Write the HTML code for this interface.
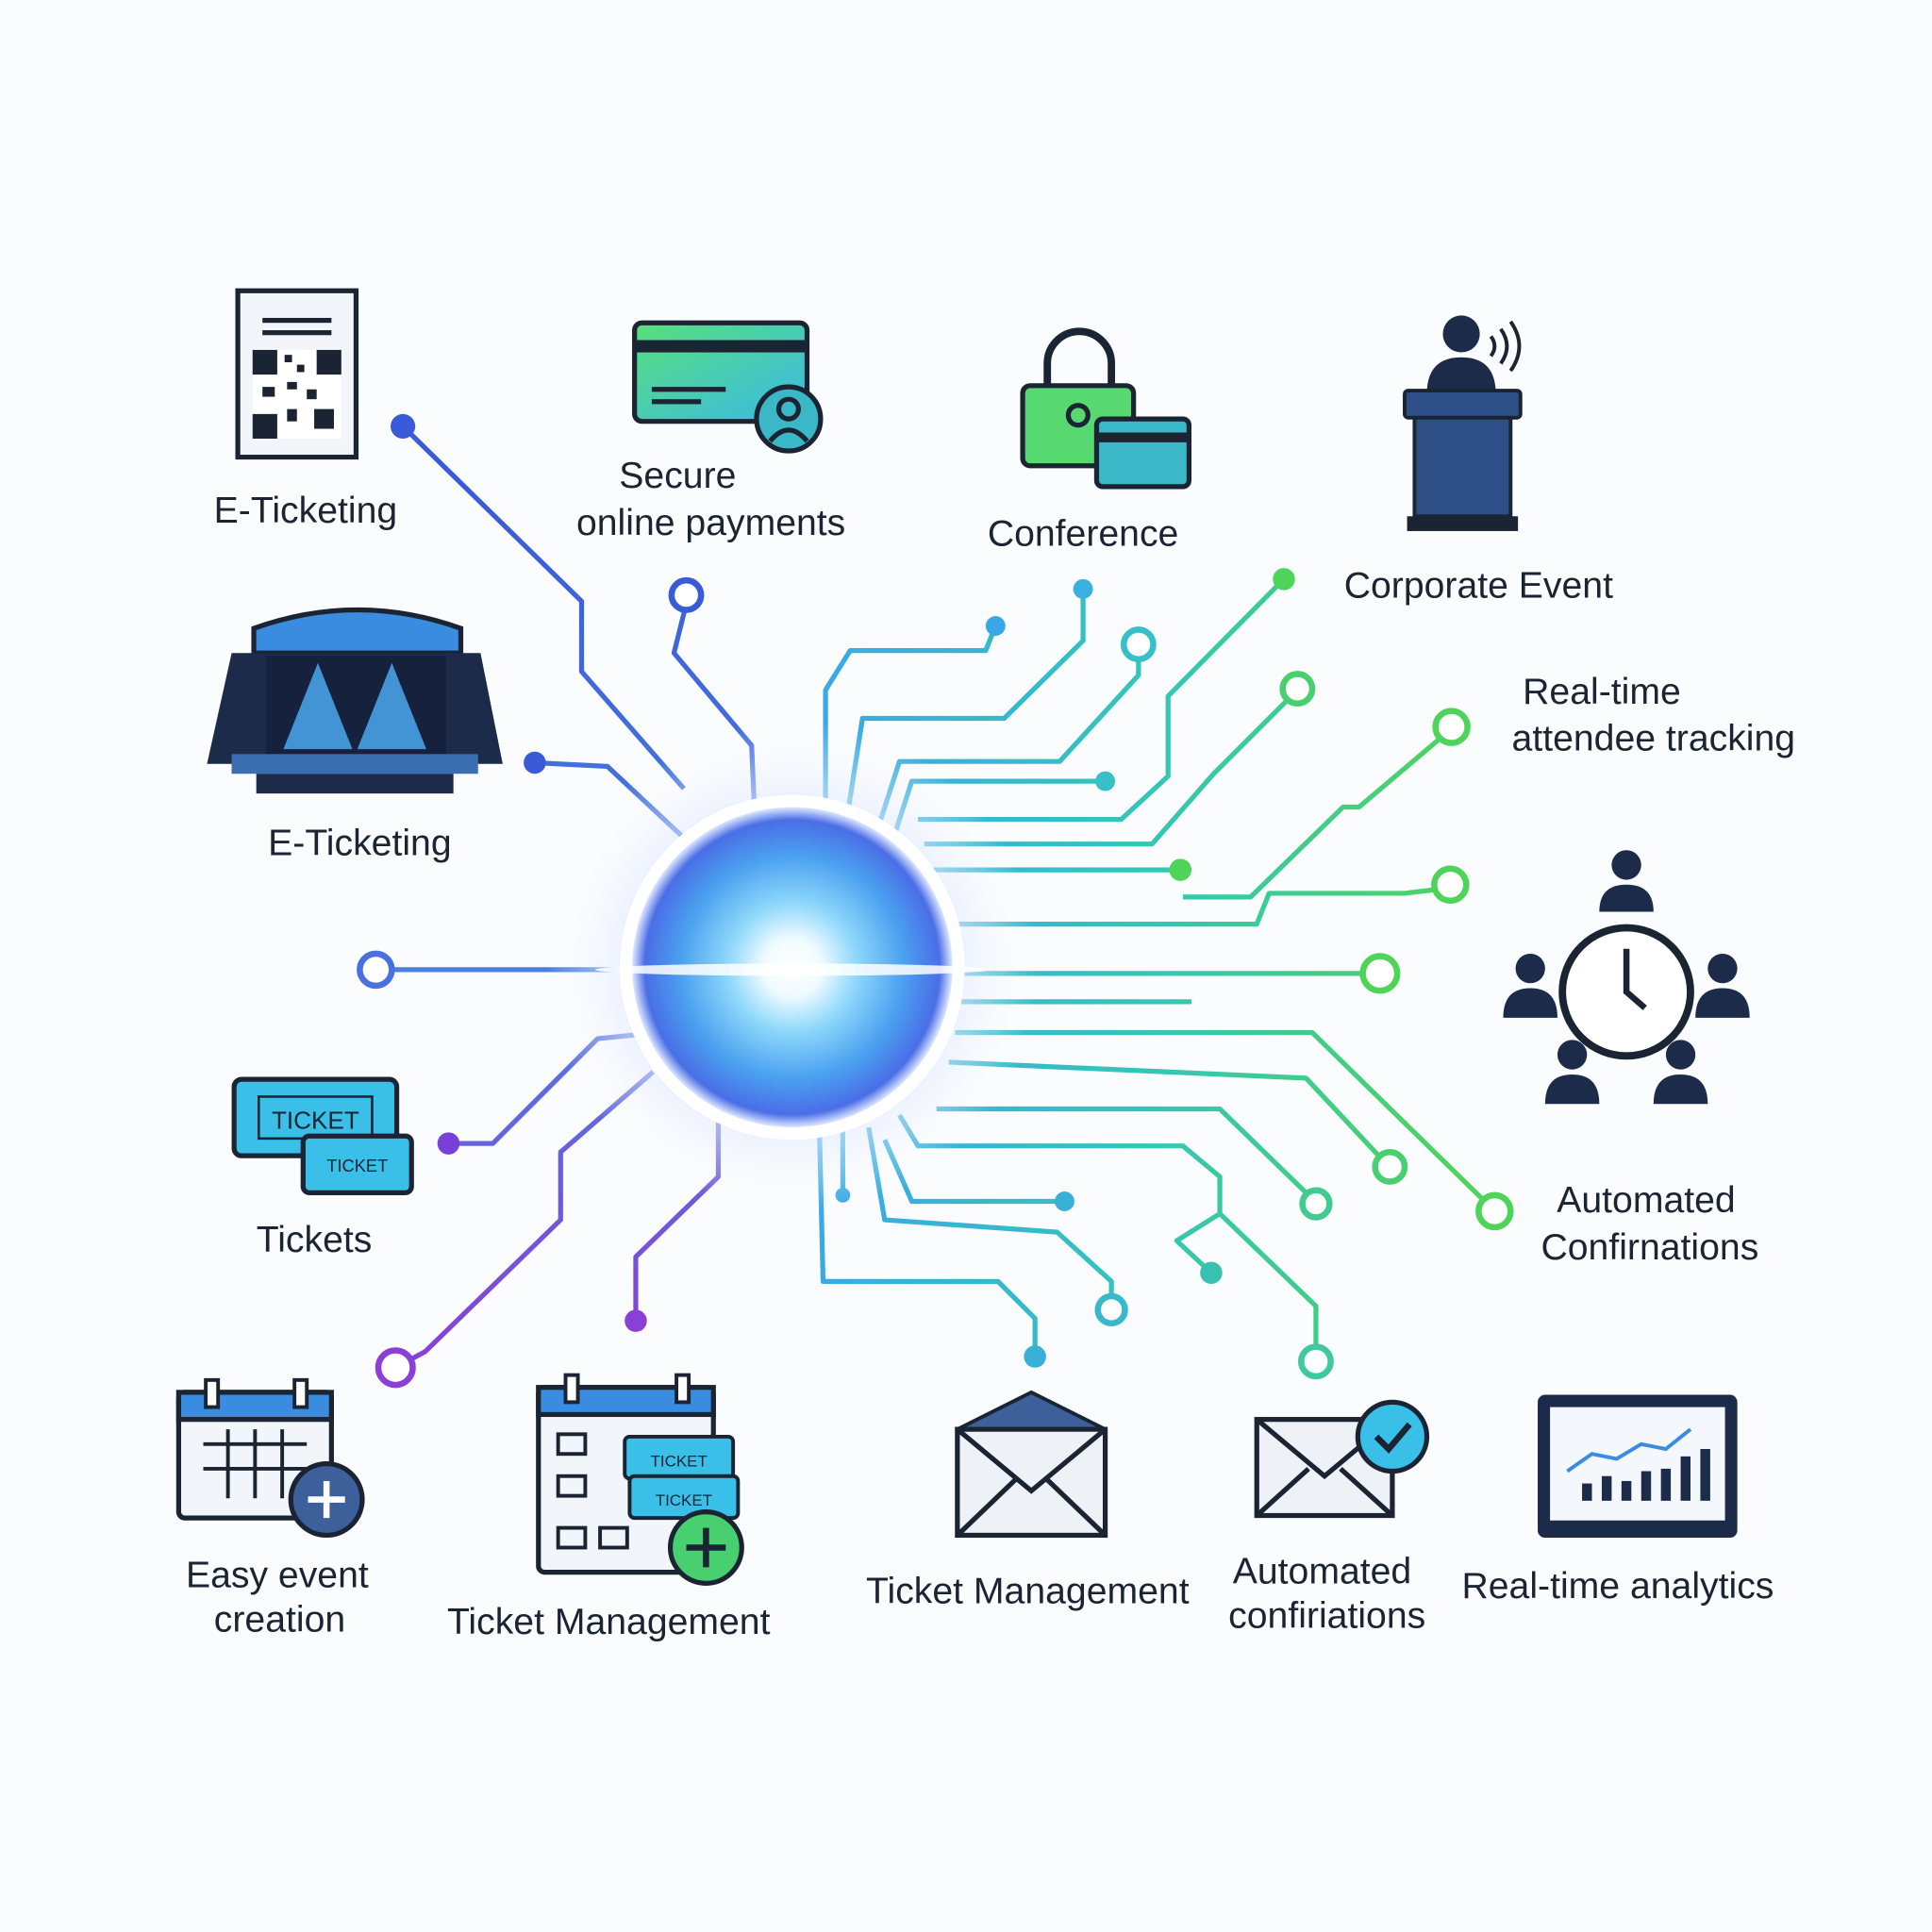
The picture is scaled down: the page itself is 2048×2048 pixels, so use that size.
<!DOCTYPE html>
<html><head><meta charset="utf-8">
<style>
html,body{margin:0;padding:0;background:#fbfcfd;}
svg{display:block}
text{font-family:"Liberation Sans","DejaVu Sans",sans-serif;fill:#1b2433;text-anchor:middle;font-size:30px}
</style></head><body>
<svg width="2048" height="2048" viewBox="0 0 1568 1568" xmlns="http://www.w3.org/2000/svg">
<defs>
<radialGradient id="glow" cx="0.5" cy="0.5" r="0.5">
<stop offset="0" stop-color="#ffffff"/>
<stop offset="0.18" stop-color="#f0fbff"/>
<stop offset="0.4" stop-color="#8fd8fb"/>
<stop offset="0.7" stop-color="#4aa0f0"/>
<stop offset="0.92" stop-color="#4a6ee6"/>
<stop offset="1" stop-color="#dfe8ff"/>
</radialGradient>
<radialGradient id="halo" cx="0.5" cy="0.5" r="0.5">
<stop offset="0.55" stop-color="#d6e2ff" stop-opacity="0.9"/>
<stop offset="1" stop-color="#ffffff" stop-opacity="0"/>
</radialGradient>
<linearGradient id="rg" gradientUnits="userSpaceOnUse" x1="660" y1="0" x2="1200" y2="0">
<stop offset="0" stop-color="#3aa8e8"/><stop offset="0.5" stop-color="#33c6b8"/><stop offset="1" stop-color="#4fd45a"/>
</linearGradient>
<linearGradient id="lg" gradientUnits="userSpaceOnUse" x1="0" y1="400" x2="0" y2="1110">
<stop offset="0" stop-color="#3a5bd9"/><stop offset="0.55" stop-color="#4a7fe0"/><stop offset="1" stop-color="#8a3fd6"/>
</linearGradient>
<linearGradient id="card" x1="0" y1="0" x2="1" y2="1"><stop offset="0" stop-color="#58e07a"/><stop offset="1" stop-color="#3ab8e8"/></linearGradient>
</defs>
<rect width="1568" height="1568" fill="#fbfcfd"/>

<g fill="none" stroke="url(#lg)" stroke-width="4" stroke-linejoin="round">
<polyline points="327,346 472,488 472,545 555,640"/>
<polyline points="557,490 547,530 610,605 612,650"/>
<polyline points="434,619 493,622 555,680"/>
<polyline points="318,787 510,787"/>
<polyline points="364,928 400,928 485,843 515,840"/>
<polyline points="332,1104 345,1097 455,990 455,935 530,870"/>
<polyline points="516,1072 516,1020 583,955 583,905"/>
</g>
<g>
<circle cx="327" cy="346" r="10" fill="#3a5bd9"/>
<circle cx="557" cy="483" r="12" fill="#fff" stroke="#3a5bd9" stroke-width="5"/>
<circle cx="434" cy="619" r="9" fill="#3a5bd9"/>
<circle cx="305" cy="787" r="13" fill="#fff" stroke="#4a6fe0" stroke-width="5"/>
<circle cx="364" cy="928" r="9" fill="#7a3fd6"/>
<circle cx="321" cy="1110" r="14" fill="#fff" stroke="#8a3fd6" stroke-width="5"/>
<circle cx="516" cy="1072" r="9" fill="#8a3fd6"/>
</g>

<g fill="none" stroke="url(#rg)" stroke-width="4" stroke-linejoin="round">
<polyline points="808,508 800,528 690,528 670,560 670,650"/>
<polyline points="879,478 879,520 815,583 700,583 688,660"/>
<polyline points="924,535 924,548 860,618 730,618 710,680"/>
<polyline points="897,634 740,634 722,690"/>
<polyline points="1042,470 948,565 948,630 910,665 745,665"/>
<polyline points="1045,568 985,628 935,685 750,685"/>
<polyline points="958,706 755,706"/>
<polyline points="1168,600 1103,655 1090,655 1015,728 960,728"/>
<polyline points="1165,722 1140,725 1030,725 1020,750 770,750"/>
<polyline points="1106,790 780,790"/>
<polyline points="967,813 780,813"/>
<polyline points="1203,973 1065,838 775,838"/>
<polyline points="1118,937 1060,875 770,862"/>
<polyline points="1060,968 990,900 760,900"/>
<polyline points="983,1033 955,1007 990,985 990,955 960,930 745,930 730,905"/>
<polyline points="1068,1093 1068,1060 990,985"/>
<polyline points="902,1051 902,1040 858,1000 718,990 705,915"/>
<polyline points="864,975 740,975 718,925"/>
<polyline points="840,1101 840,1070 810,1040 668,1040 665,915"/>
<polyline points="684,970 684,915"/>
</g>
<g stroke-width="5">
<circle cx="808" cy="508" r="8" fill="#3aa8e8"/>
<circle cx="879" cy="478" r="8" fill="#3ab0e0"/>
<circle cx="924" cy="523" r="12" fill="#fff" stroke="#38c0c8"/>
<circle cx="897" cy="634" r="8" fill="#38c0c8"/>
<circle cx="1042" cy="470" r="9" fill="#4fd45a"/>
<circle cx="1053" cy="559" r="12" fill="#fff" stroke="#48d070"/>
<circle cx="958" cy="706" r="9" fill="#4fd45a"/>
<circle cx="1178" cy="590" r="13" fill="#fff" stroke="#4fd45a"/>
<circle cx="1177" cy="718" r="13" fill="#fff" stroke="#4fd45a"/>
<circle cx="1120" cy="790" r="14" fill="#fff" stroke="#4fd45a"/>
<circle cx="1213" cy="983" r="13" fill="#fff" stroke="#4fd45a"/>
<circle cx="1128" cy="947" r="12" fill="#fff" stroke="#48d070"/>
<circle cx="1068" cy="977" r="11" fill="#fff" stroke="#40cc90"/>
<circle cx="983" cy="1033" r="9" fill="#38c0b0"/>
<circle cx="1068" cy="1105" r="12" fill="#fff" stroke="#40c8a0"/>
<circle cx="902" cy="1063" r="11" fill="#fff" stroke="#38b8c8"/>
<circle cx="864" cy="975" r="8" fill="#38b0d8"/>
<circle cx="840" cy="1101" r="9" fill="#38b0d8"/>
<circle cx="684" cy="970" r="6" fill="#3aa8e8"/>
</g>

<circle cx="643" cy="785" r="200" fill="url(#halo)"/>
<circle cx="643" cy="785" r="140" fill="#fff"/>
<circle cx="643" cy="785" r="130" fill="url(#glow)"/>
<ellipse cx="643" cy="787" rx="160" ry="5" fill="#ffffff" opacity="0.85"/>

<g transform="translate(193,236)">
<path d="M0,0 H96 V135 H0 Z" fill="#f2f5f9" stroke="#1b2433" stroke-width="4"/>
<rect x="20" y="22" width="56" height="4" fill="#1b2433"/><rect x="20" y="32" width="56" height="4" fill="#1b2433"/>
<rect x="12" y="48" width="72" height="72" fill="#fff"/>
<g fill="#1b2433"><rect x="12" y="48" width="20" height="20"/><rect x="64" y="48" width="20" height="20"/><rect x="12" y="100" width="20" height="20"/>
<rect x="38" y="52" width="6" height="6"/><rect x="48" y="60" width="6" height="6"/><rect x="40" y="74" width="8" height="6"/><rect x="56" y="80" width="8" height="8"/><rect x="62" y="96" width="16" height="16"/><rect x="40" y="96" width="8" height="10"/><rect x="20" y="78" width="10" height="8"/></g>
</g>
<g transform="translate(515,262)">
<rect width="140" height="80" rx="6" fill="url(#card)" stroke="#1b2433" stroke-width="4"/>
<rect x="0" y="14" width="140" height="10" fill="#1b2433"/>
<rect x="14" y="52" width="60" height="4" fill="#1b2433"/><rect x="14" y="62" width="40" height="4" fill="#1b2433"/>
<circle cx="125" cy="78" r="26" fill="#3ab8c8" stroke="#1b2433" stroke-width="4"/>
<circle cx="125" cy="70" r="8" fill="none" stroke="#1b2433" stroke-width="4"/>
<path d="M110,96 Q125,78 140,96" fill="none" stroke="#1b2433" stroke-width="4"/>
</g>
<g transform="translate(830,265)">
<path d="M20,50 V30 A26,26 0 0 1 72,30 V50" fill="none" stroke="#1b2433" stroke-width="6"/>
<rect x="0" y="48" width="90" height="65" rx="6" fill="#58d870" stroke="#1b2433" stroke-width="4"/>
<circle cx="45" cy="72" r="8" fill="none" stroke="#1b2433" stroke-width="4"/>
<rect x="60" y="75" width="75" height="55" rx="5" fill="#3ab8c8" stroke="#1b2433" stroke-width="4"/>
<rect x="60" y="86" width="75" height="8" fill="#1b2433"/>
</g>
<g transform="translate(1140,255)" fill="#1d2b4a">
<circle cx="46" cy="16" r="15"/>
<path d="M18,65 Q18,35 46,35 Q74,35 74,65 Z"/>
<rect x="0" y="62" width="94" height="22" rx="3" fill="#2d4f86" stroke="#1b2433" stroke-width="3"/>
<rect x="8" y="84" width="78" height="80" fill="#2d4f86" stroke="#1b2433" stroke-width="3"/>
<rect x="2" y="164" width="90" height="12" fill="#1b2433"/>
<path d="M70,18 Q76,26 70,34 M78,12 Q88,26 78,40 M86,6 Q100,26 86,46" fill="none" stroke="#1b2433" stroke-width="3"/>
</g>
<g transform="translate(168,490)">
<path d="M38,20 Q122,-10 206,20 V40 H38 Z" fill="#3a8ce0" stroke="#1b2433" stroke-width="4"/>
<path d="M0,130 L20,40 H222 L240,130 Z" fill="#1d2b4a"/>
<rect x="48" y="42" width="146" height="80" fill="#16223d"/>
<path d="M90,48 L62,118 H118 Z M150,48 L122,118 H178 Z" fill="#4aa8ee" opacity="0.85"/>
<rect x="20" y="122" width="200" height="16" fill="#3a6eb0"/>
<rect x="40" y="138" width="160" height="16" fill="#1d2b4a"/>
</g>
<g transform="translate(190,876)">
<rect width="132" height="62" rx="6" fill="#3ac0e8" stroke="#1b2433" stroke-width="4"/>
<rect x="20" y="14" width="92" height="34" fill="none" stroke="#1b2433" stroke-width="2"/>
<text x="66" y="40" style="font-size:20px">TICKET</text>
<rect x="56" y="46" width="88" height="46" rx="5" fill="#3ac0e8" stroke="#1b2433" stroke-width="4"/>
<text x="100" y="75" style="font-size:14px">TICKET</text>
</g>
<g transform="translate(1220,690)" fill="#1d2b4a">
<circle cx="100" cy="115" r="52" fill="#fff" stroke="#1b2433" stroke-width="6"/>
<path d="M100,80 V115 L115,128" fill="none" stroke="#1b2433" stroke-width="5"/>
<circle cx="100" cy="12" r="12"/><path d="M78,50 Q78,28 100,28 Q122,28 122,50 Z"/>
<circle cx="22" cy="96" r="12"/><path d="M0,136 Q0,112 22,112 Q44,112 44,136 Z"/>
<circle cx="178" cy="96" r="12"/><path d="M156,136 Q156,112 178,112 Q200,112 200,136 Z"/>
<circle cx="56" cy="166" r="12"/><path d="M34,206 Q34,182 56,182 Q78,182 78,206 Z"/>
<circle cx="144" cy="166" r="12"/><path d="M122,206 Q122,182 144,182 Q166,182 166,206 Z"/>
</g>
<g transform="translate(145,1120)">
<rect x="0" y="10" width="124" height="102" rx="5" fill="#f2f5f9" stroke="#1b2433" stroke-width="4"/>
<rect x="0" y="10" width="124" height="22" fill="#3a8ce0" stroke="#1b2433" stroke-width="4"/>
<rect x="22" y="0" width="10" height="22" fill="#fff" stroke="#1b2433" stroke-width="3"/><rect x="94" y="0" width="10" height="22" fill="#fff" stroke="#1b2433" stroke-width="3"/>
<path d="M20,52 H104 M20,72 H104 M40,40 V96 M62,40 V96 M84,40 V96" stroke="#1b2433" stroke-width="3"/>
<circle cx="120" cy="97" r="29" fill="#3d5f9a" stroke="#1b2433" stroke-width="4"/>
<path d="M120,82 V112 M105,97 H135" stroke="#fff" stroke-width="5"/>
</g>
<g transform="translate(437,1116)">
<rect x="0" y="10" width="142" height="150" rx="5" fill="#f2f5f9" stroke="#1b2433" stroke-width="4"/>
<rect x="0" y="10" width="142" height="22" fill="#3a8ce0" stroke="#1b2433" stroke-width="4"/>
<rect x="22" y="0" width="10" height="22" fill="#fff" stroke="#1b2433" stroke-width="3"/><rect x="112" y="0" width="10" height="22" fill="#fff" stroke="#1b2433" stroke-width="3"/>
<g fill="none" stroke="#1b2433" stroke-width="3"><rect x="16" y="48" width="22" height="16"/><rect x="16" y="82" width="22" height="16"/><rect x="16" y="124" width="22" height="16"/><rect x="50" y="124" width="22" height="16"/></g>
<rect x="70" y="50" width="88" height="34" rx="4" fill="#3ac0e8" stroke="#1b2433" stroke-width="3"/>
<text x="114" y="74" style="font-size:13px">TICKET</text>
<rect x="74" y="82" width="88" height="34" rx="4" fill="#3ac0e8" stroke="#1b2433" stroke-width="3"/>
<text x="118" y="106" style="font-size:13px">TICKET</text>
<circle cx="136" cy="140" r="29" fill="#48d070" stroke="#1b2433" stroke-width="4"/>
<path d="M136,124 V156 M120,140 H152" stroke="#1b2433" stroke-width="5"/>
</g>
<g transform="translate(777,1130)">
<path d="M0,30 L60,0 L120,30" fill="#3d5f9a" stroke="#1b2433" stroke-width="3"/>
<rect x="0" y="30" width="120" height="86" fill="#eef2f7" stroke="#1b2433" stroke-width="4"/>
<path d="M0,30 L60,80 L120,30 M0,116 L48,70 M120,116 L72,70" fill="none" stroke="#1b2433" stroke-width="4"/>
</g>
<g transform="translate(1020,1138)">
<rect x="0" y="14" width="110" height="78" fill="#eef2f7" stroke="#1b2433" stroke-width="4"/>
<path d="M0,14 L55,60 L110,14 M0,92 L42,54 M110,92 L68,54" fill="none" stroke="#1b2433" stroke-width="4"/>
<circle cx="110" cy="28" r="28" fill="#3ac0e8" stroke="#1b2433" stroke-width="4"/>
<path d="M97,28 L107,38 L124,18" fill="none" stroke="#1b2433" stroke-width="5"/>
</g>
<g transform="translate(1248,1132)">
<rect width="162" height="116" rx="6" fill="#1d2b4a"/>
<rect x="10" y="10" width="142" height="92" fill="#f4f7fb"/>
<g fill="#1d2b4a"><rect x="36" y="72" width="8" height="14"/><rect x="52" y="66" width="8" height="20"/><rect x="68" y="70" width="8" height="16"/><rect x="84" y="62" width="8" height="24"/><rect x="100" y="60" width="8" height="26"/><rect x="116" y="50" width="8" height="36"/><rect x="132" y="44" width="8" height="42"/></g>
<polyline points="24,62 44,48 64,52 84,40 104,44 124,28" fill="none" stroke="#3a8ce0" stroke-width="3"/>
</g>

<text x="248" y="424">E-Ticketing</text>
<text x="550" y="396">Secure</text>
<text x="577" y="434">online payments</text>
<text x="879" y="443">Conference</text>
<text x="1200" y="485">Corporate Event</text>
<text x="1300" y="571">Real-time</text>
<text x="1342" y="609">attendee tracking</text>
<text x="292" y="694">E-Ticketing</text>
<text x="255" y="1016">Tickets</text>
<text x="1336" y="984">Automated</text>
<text x="1339" y="1022">Confirnations</text>
<text x="225" y="1288">Easy event</text>
<text x="227" y="1324">creation</text>
<text x="494" y="1326">Ticket Management</text>
<text x="834" y="1301">Ticket Management</text>
<text x="1073" y="1285">Automated</text>
<text x="1077" y="1321">confiriations</text>
<text x="1313" y="1297">Real-time analytics</text>
</svg>
</body></html>
